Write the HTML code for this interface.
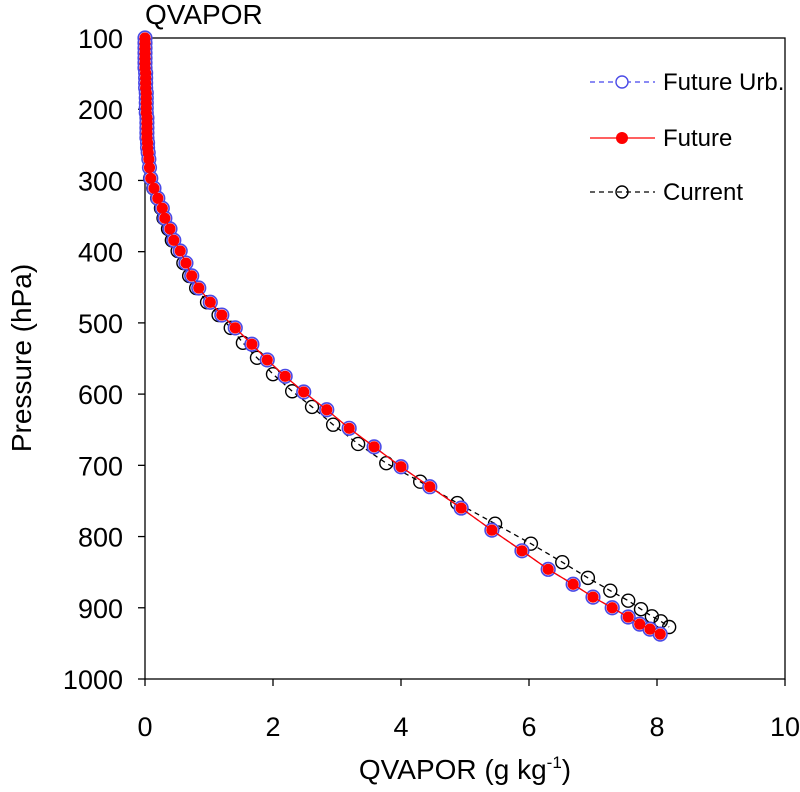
<!DOCTYPE html>
<html><head><meta charset="utf-8">
<style>
body{margin:0;background:#fff;}
svg text{font-family:"Liberation Sans",sans-serif;fill:#000;}
</style></head>
<body>
<svg id="chart" width="800" height="787" xmlns="http://www.w3.org/2000/svg"></svg>
<script>
const futureQ=[0,0,0,0,0,0,0,0.01,0.01,0.01,0.01,0.02,0.02,0.02,0.02,0.02,0.03,0.03,0.03,0.03,0.03,0.04,0.04,0.05,0.06,0.07,0.09,0.14,0.20,0.27,0.31,0.39,0.45,0.55,0.64,0.73,0.84,1.02,1.20,1.41,1.67,1.91,2.19,2.48,2.84,3.19,3.58,4.00,4.45,4.94,5.42,5.89,6.30,6.69,7.00,7.30,7.55,7.73,7.89,8.05];
const futureP=[100,107,114,121,128,135,142,149,156,163,170,177,184,191,198,205,212,219,226,233,240,247,254,261,270,282,297,311,325,339,353,368,384,399,416,434,451,471,489,507,530,552,575,597,622,648,674,702,730,760,791,820,846,867,885,900,913,923,930,937];
const urbQ=futureQ.slice();
const urbP=futureP.slice();
const currentQ=[0,0,0,0,0,0,0,0.01,0.01,0.01,0.01,0.02,0.02,0.02,0.02,0.02,0.03,0.03,0.03,0.03,0.03,0.04,0.04,0.05,0.06,0.07,0.08,0.13,0.19,0.25,0.29,0.36,0.42,0.51,0.60,0.69,0.80,0.97,1.15,1.34,1.53,1.75,2.00,2.30,2.61,2.94,3.33,3.77,4.30,4.88,5.47,6.03,6.52,6.92,7.27,7.55,7.75,7.92,8.06,8.19];
const currentP=[100,107,114,121,128,135,142,149,156,163,170,177,184,191,198,205,212,219,226,233,240,247,254,261,270,282,297,311,325,339,353,368,384,399,416,434,451,471,489,507,528,549,572,596,618,643,670,697,723,753,782,810,836,858,876,890,902,912,919,927];
const xTicks=[0,2,4,6,8,10];
const yTicks=[100,200,300,400,500,600,700,800,900,1000];

const L=145,R=785,T=38,B=679;
const xs=v=>L+(v-0)/(10-0)*(R-L);
const ys=p=>T+(p-100)/(1000-100)*(B-T);
const svg=document.getElementById('chart');
const NS='http://www.w3.org/2000/svg';
function mk(tag,attrs,parent){const e=document.createElementNS(NS,tag);for(const k in attrs)e.setAttribute(k,attrs[k]);(parent||svg).appendChild(e);return e;}

const frame=mk('rect',{x:L,y:T,width:R-L,height:B-T,fill:'none',stroke:'#000','stroke-width':1.3});



xTicks.forEach(v=>{
  const t=mk('line',{x1:xs(v),x2:xs(v),y1:B,y2:B+7,stroke:'#000','stroke-width':1.3});
  
  
  const l=mk('text',{x:xs(v),y:B+57,'text-anchor':'middle','font-size':27});
  l.textContent=v;
  
  
});
yTicks.forEach(v=>{
  const t=mk('line',{x1:L-7,x2:L,y1:ys(v),y2:ys(v),stroke:'#000','stroke-width':1.3});
  
  
  const l=mk('text',{x:L-22,y:ys(v)+10,'text-anchor':'end','font-size':27});
  l.textContent=v;
  
  
});

function series(qs,ps,name,lineAttrs,marker){
  const g=mk('g',{});
  
  
  const pts=qs.map((q,i)=>xs(q)+','+ys(ps[i])).join(' ');
  const pl=mk('polyline',Object.assign({points:pts,fill:'none'},lineAttrs),g);
  
  
  qs.forEach((q,i)=>{
    const c=mk('circle',Object.assign({cx:xs(q),cy:ys(ps[i])},marker),g);
    
    
  });
}
series(currentQ,currentP,'current',{stroke:'#000','stroke-width':1.3,'stroke-dasharray':'5,4'},{r:6.5,fill:'none',stroke:'#000','stroke-width':1.4});
series(urbQ,urbP,'future-urb',{stroke:'#4444ee','stroke-width':1.3,'stroke-dasharray':'5,4'},{r:6.8,fill:'#fff',stroke:'#4a4ae6','stroke-width':1.6});
series(futureQ,futureP,'future',{stroke:'#ff0000','stroke-width':1.3},{r:5.6,fill:'#ff0000',stroke:'none'});

const leg=[['Future Urb.',82,'#4444ee','5,4','#fff','#4a4ae6'],['Future',138,'#ff0000','','#ff0000','none'],['Current',192,'#000','5,4','none','#000']];
leg.forEach(([lab,y,col,dash,fill,st])=>{
  const g=mk('g',{});
  
  
  mk('line',{x1:590,x2:655,y1:y,y2:y,stroke:col,'stroke-width':1.3,'stroke-dasharray':dash},g);
  mk('circle',{cx:622,cy:y,r:6,fill:fill,stroke:st,'stroke-width':1.4},g);
  const t=mk('text',{x:663,y:y+8,'font-size':24},g);t.textContent=lab;
});

const title=mk('text',{x:145,y:24,'font-size':28});title.textContent='QVAPOR';


const xt=mk('text',{x:465,y:779,'text-anchor':'middle','font-size':28});
xt.innerHTML='QVAPOR (g kg<tspan dy="-11" font-size="17">-1</tspan><tspan dy="11">)</tspan>';


const yt=mk('text',{x:0,y:0,'text-anchor':'middle','font-size':28,transform:'translate(31,358) rotate(-90)'});
yt.textContent='Pressure (hPa)';


</script>
</body></html>
